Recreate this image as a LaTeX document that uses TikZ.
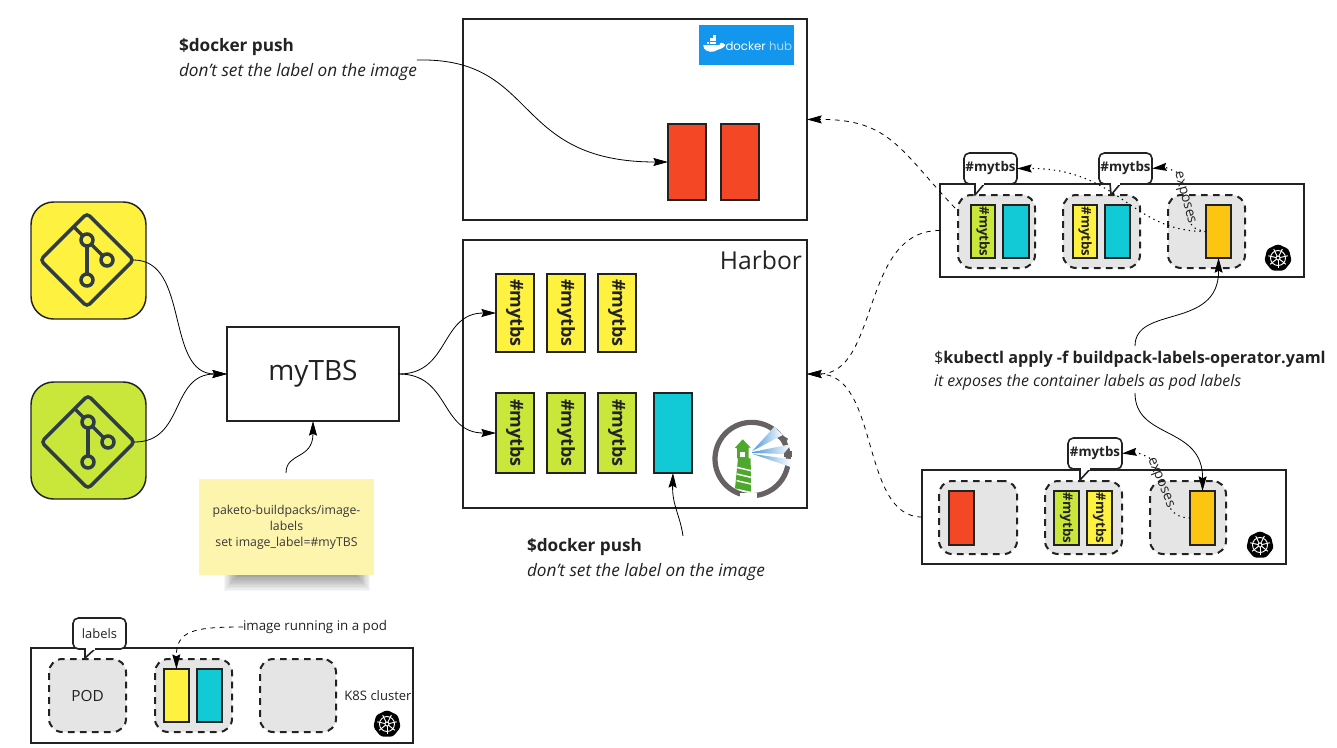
\documentclass[tikz,border=0pt]{standalone}
\usepackage{fontspec}
\setmainfont{Open Sans}
\newfontfamily\hubfont{Poppins}
\usetikzlibrary{arrows.meta,shapes.geometric,calc}
\definecolor{ink}{HTML}{222222}
\definecolor{slate}{HTML}{2E3D45}
\definecolor{cyel}{HTML}{FFF140}
\definecolor{clime}{HTML}{C9E63B}
\definecolor{ccyan}{HTML}{12CAD6}
\definecolor{cred}{HTML}{F44725}
\definecolor{corange}{HTML}{FBC512}
\definecolor{cpod}{HTML}{E5E5E5}
\definecolor{csticky}{HTML}{FDF5AE}
\definecolor{cdock}{HTML}{1396ED}
\definecolor{cring}{HTML}{666264}
\definecolor{cgreen}{HTML}{4FA82E}
\definecolor{cbeam}{HTML}{4A98DC}
\tikzset{
  base/.style={inner sep=0pt,outer sep=0pt,text=ink},
  frame/.style={base,draw=ink,line width=1.5pt,fill=white},
  pod/.style={base,draw=ink,fill=cpod,line width=1.5pt,dash pattern=on 5pt off 4pt,rounded corners=10pt},
  img/.style={base,draw=ink,line width=1.5pt},
  tile/.style={base,draw=ink,line width=1.1pt,rounded corners=17pt},
  bub/.style={base,draw=ink,fill=white,line width=1.2pt,rounded corners=4pt},
  tip/.style={-{Stealth[length=11pt,width=6pt,inset=1.5pt]}},
  flow/.style={draw=black,line width=.6pt,tip},
  dashflow/.style={flow,dash pattern=on 3.5pt off 3.5pt},
  dotflow/.style={flow,line width=.8pt,dash pattern=on 1pt off 3pt},
  dotline/.style={draw=black,line width=.8pt,dash pattern=on 1pt off 3pt},
  pt12/.style={base,font=\fontsize{12.9}{18.75}\selectfont,align=left},
  pics/gitmark/.style={code={
    \node[diamond,draw=slate,line width=2.6pt,rounded corners=3pt,inner sep=0pt,outer sep=0pt,
      minimum width=70pt,minimum height=70pt] (-d) at (0,0) {};
    \draw[slate,line width=2.6pt] (-13.5,-33.5) -- (0,-20) -- (20,0);
    \draw[slate,line width=2.6pt] (0,-20) -- (0,20);
    \foreach \cx/\cy in {0/-20,20/0,0/20}
      \draw[slate,line width=2.6pt,fill=#1] (\cx,\cy) circle (6);
  }},
  k8s/.pic={
    \node[regular polygon,regular polygon sides=7,fill=black,rounded corners=2pt,inner sep=0pt,
      minimum size=21pt] (-h) at (0,0) {};
    \draw[white,line width=.7pt] (0,0) circle (7.5);
    \draw[white,line width=.7pt] (0,0) circle (2);
    \foreach \a in {90,141.4,192.9,244.3,295.7,347.1,38.6}
      \draw[white,line width=.7pt] (\a:2) -- (\a:10);
  }
}
% name, style, x1, y1, x2, y2, text
\newcommand\bxn[7]{\node[#2,minimum width={(#5-#3)*.75pt},minimum height={(#6-#4)*.75pt}] (#1) at ({(#3+#5)/2},{(#4+#6)/2}) {#7};}
\newcommand\tagbig{\rotatebox{-90}{\fontsize{13.5}{15}\selectfont\bfseries\#mytbs}}
\newcommand\tagsmall{\rotatebox{-90}{\fontsize{10}{12}\selectfont\bfseries\#mytbs}}
\newcommand\tagflat{\fontsize{10}{12}\selectfont\bfseries\#mytbs}
% name, x1,y1,x2,y2, tail left x, tip x, tip y, tail right x
\newcommand\bubble[9]{%
  \draw[draw=ink,fill=white,line width=1.2pt,line join=round] (#6,#5-1) -- (#7,#8) -- (#9,#5-1);
  \bxn{#1}{bub}{#2}{#3}{#4}{#5}{\tagflat}
  \draw[white,line width=1.6pt] (#6+1,#5) -- (#9-1,#5);
}
\begin{document}
\begin{tikzpicture}[x=.75pt,y=-.75pt]
\useasboundingbox (0,0) rectangle (1337,747);
\fill[white] (0,0) rectangle (1337,747);

% git tiles
\bxn{tile1}{tile,fill=cyel}{31}{202}{146}{319}{}
\bxn{tile2}{tile,fill=clime}{31}{382}{146}{499}{}
\pic (g1) at (87,260) {gitmark=cyel};
\pic (g2) at (88,442) {gitmark=clime};

% myTBS
\bxn{tbs}{frame}{227}{327}{399}{421}{\fontsize{21}{24}\selectfont myTBS}

% sticky
\foreach \i in {0,...,11}
  \fill[black,opacity=.035] (224+\i*1.2,574) rectangle (370-\i*1.2,591-\i*1.4);
\bxn{sticky}{base,fill=csticky,align=center,font=\fontsize{9.2}{12}\selectfont,text=ink!90}{199}{479}{374}{575}{paketo-buildpacks/image-\\labels\\set image\_label=\#myTBS}

% docker box
\bxn{dock}{frame}{463}{19}{807}{220}{}
\bxn{hubbg}{base,fill=cdock}{699}{25}{794}{65}{}
\begin{scope}[shift={(690,15)},x=.25pt,y=-.25pt]
  \fill[white] (40,90) -- (88,90) .. controls (92,80) and (98,82) .. (106,90)
     .. controls (100,100) and (92,102) .. (84,104) .. controls (70,114) and (50,112) .. (42,100) -- cycle;
  \foreach \bxx/\byy in {50/80,60/80,70/80,60/70,70/70,70/60}
    \fill[white] (\bxx,\byy) rectangle ++(8,8);
  \node[base,text=white,font=\hubfont\fontsize{8.8}{10}\selectfont] (hubw1) at (167,95) {docker};
  \node[base,text=white!65!cdock,font=\hubfont\fontsize{8.8}{10}\selectfont] (hubw2) at (272,95) {hub};
\end{scope}
\bxn{r1}{img,fill=cred}{668}{124}{706}{200}{}
\bxn{r2}{img,fill=cred}{721}{124}{759}{200}{}

% harbor
\bxn{harbor}{frame}{463}{240}{807}{508}{}
\node[base,font=\fontsize{18.5}{22}\selectfont] (harbt) at (761,260) {Harbor};
\bxn{y1}{img,fill=cyel}{496}{274}{534}{352}{\tagbig}
\bxn{y2}{img,fill=cyel}{547}{274}{585}{352}{\tagbig}
\bxn{y3}{img,fill=cyel}{598}{274}{636}{352}{\tagbig}
\bxn{l1}{img,fill=clime}{496}{393}{534}{473}{\tagbig}
\bxn{l2}{img,fill=clime}{547}{393}{585}{473}{\tagbig}
\bxn{l3}{img,fill=clime}{598}{393}{636}{473}{\tagbig}
\bxn{c0}{img,fill=ccyan}{654}{393}{692}{473}{}
% lighthouse
\begin{scope}[shift={(640,380)},x=.25pt,y=-.25pt]
  \draw[cring,line width=3.9pt] (335,237) ++(54:110) arc (54:-336:110);
  \draw[cring,line width=3.9pt] (415,167) -- (440,183);
  \draw[cring,line width=3.9pt] (433,222) -- (456,222);
  \shade[left color=cbeam,right color=white] (337,213) -- (403,140) -- (428,165) -- cycle;
  \shade[left color=cbeam,right color=white] (338,216) -- (455,192) -- (430,222) -- (338,219) -- cycle;
  \shade[left color=cbeam,right color=white] (338,222) -- (455,238) -- (455,262) -- cycle;
  \fill[white] (300,340) rectangle (350,358);
  \fill[cgreen] (308,178) -- (332,203) -- (326,203) -- (326,235) -- (332,235) -- (333,335) -- (285,325) -- (294,235) -- (291,235) -- (291,205) -- (285,203) -- cycle;
  \fill[white] (300,215) rectangle (316,232);
  \foreach \sy in {262,282,302}
    \draw[white,line width=1.1pt] (290,\sy) -- (333,\sy+10);
\end{scope}

% top cluster
\bxn{k1}{frame}{940}{184}{1304}{277}{}
\bxn{p1}{pod}{958}{195}{1035}{268}{}
\bxn{p2}{pod}{1063}{195}{1140}{268}{}
\bxn{p3}{pod}{1168}{195}{1245}{268}{}
\bxn{a1}{img,fill=clime}{971}{205}{995}{258}{\tagsmall}
\bxn{a2}{img,fill=ccyan}{1003}{205}{1029}{258}{}
\bxn{a3}{img,fill=cyel}{1073}{205}{1097}{258}{\tagsmall}
\bxn{a4}{img,fill=ccyan}{1105}{205}{1130}{258}{}
\bxn{a5}{img,fill=corange}{1206}{205}{1231}{258}{}
\pic (ka) at (1278,258) {k8s};
\bubble{b1}{964}{153}{1017}{184}{975}{975}{195}{985}
\bubble{b2}{1099}{153}{1152}{184}{1110}{1111}{195}{1121}

% bottom cluster
\bxn{k2}{frame}{922}{470}{1286}{564}{}
\bxn{q1}{pod}{939}{481}{1017}{554}{}
\bxn{q2}{pod}{1045}{481}{1122}{554}{}
\bxn{q3}{pod}{1150}{481}{1226}{554}{}
\bxn{d1}{img,fill=cred}{949}{491}{974}{545}{}
\bxn{d2}{img,fill=clime}{1054}{491}{1079}{545}{\tagsmall}
\bxn{d3}{img,fill=cyel}{1087}{491}{1112}{545}{\tagsmall}
\bxn{d4}{img,fill=corange}{1190}{491}{1215}{545}{}
\pic (kb) at (1260,545) {k8s};
\bubble{b3}{1068}{438}{1122}{469}{1080}{1080}{480}{1091}

% legend
\bxn{k3}{frame}{31}{648}{413}{743}{}
\bxn{e1}{pod,font=\fontsize{11.5}{13}\selectfont}{49}{659}{126}{732}{POD}
\bxn{e2}{pod}{155}{659}{232}{732}{}
\bxn{e3}{pod}{260}{659}{336}{732}{}
\bxn{f1}{img,fill=cyel}{164}{669}{189}{722}{}
\bxn{f2}{img,fill=ccyan}{197}{669}{222}{722}{}
\draw[draw=ink,fill=white,line width=1.2pt,line join=round] (85,648) -- (85,658) -- (96,648);
\bxn{b4}{bub,font=\fontsize{9.7}{12}\selectfont}{73}{618}{126}{649}{labels}
\draw[white,line width=1.6pt] (86,649) -- (95,649);
\pic (kc) at (387,724) {k8s};
\node[base,font=\fontsize{9.8}{12}\selectfont] (kt) at (378,696) {K8S cluster};
\node[base,font=\fontsize{10}{12}\selectfont,anchor=west] (imt) at (243,627) {image running in a pod};

% texts
\node[pt12,anchor=west] (dp1) at (179,60) {\textbf{\$docker push}\\\textit{don't set the label on the image}};
\node[pt12,anchor=west] (dp2) at (527,560) {\textbf{\$docker push}\\\textit{don't set the label on the image}};
\node[pt12,anchor=west,font=\fontsize{12.15}{17}\selectfont] (kub) at (934,371) {\$\textbf{kubectl apply -f buildpack-labels-operator.yaml}\\\fontsize{11.9}{17}\selectfont\textit{it exposes the container labels as pod labels}};
\node[base,rotate=-75,font=\fontsize{10.5}{12}\selectfont] (ex1) at (1184,198) {exposes};
\node[base,rotate=-68,font=\fontsize{10.5}{12}\selectfont] (ex2) at (1160,483) {exposes};

% free connector ends
\coordinate (s0) at (286,473);
\coordinate (s1) at (683,536);
\coordinate (s2) at (1135,346);
\coordinate (s3) at (1135,393);
\coordinate (s4) at (955,208);

% connectors
\draw[flow] (g1-d.east) .. controls (190,260) and (165,374) .. (tbs.west);
\draw[flow] (g2-d.east) .. controls (185,442) and (170,374) .. (tbs.west);
\draw[flow] (tbs.east) .. controls (450,374) and (440,313) .. (y1.west);
\draw[flow] (tbs.east) .. controls (450,374) and (440,433) .. (l1.west);
\draw[flow] (s0) .. controls (286,452) and (313,460) .. (tbs.south);
\draw[flow] (dp1.east) .. controls (540,57) and (510,162) .. (r1.west);
\draw[flow] (s1) .. controls (680,515) and (672,505) .. (c0.south);
\draw[flow] (s2) .. controls (1135,305) and (1219,330) .. (a5.south);
\draw[flow] (s3) .. controls (1135,440) and (1203,425) .. (d4.north);
\draw[dashflow] (s4) .. controls (900,150) and (890,119) .. (dock.east);
\draw[dashflow] (k1.west) .. controls (860,230) and (880,374) .. (harbor.east);
\draw[dashflow] (k2.west) .. controls (860,517) and (880,374) .. (harbor.east);
\draw[dashflow] (imt.west) .. controls (195,627) and (176,630) .. (f1.north);
\draw[dotflow] (a5.west) .. controls (1130,232) and (1120,168) .. (b1.east);
\draw[dotline] (a5.west) .. controls (1198,230) and (1192,228) .. (ex1.east);
\draw[dotflow] (ex1.west) .. controls (1172,170) and (1165,167) .. (b2.east);
\draw[dotline] (d4.west) .. controls (1182,518) and (1174,515) .. (ex2.east);
\draw[dotflow] (ex2.west) .. controls (1145,455) and (1135,452) .. (b3.east);
\end{tikzpicture}
\end{document}
